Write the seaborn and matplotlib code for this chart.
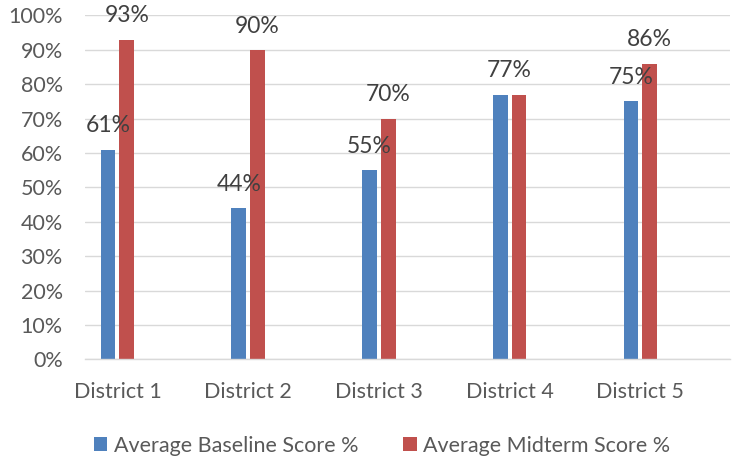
import matplotlib
matplotlib.use("Agg")
import matplotlib.pyplot as plt
import seaborn as sns
import pandas as pd
from matplotlib.ticker import FuncFormatter
from matplotlib.patches import Patch

# ---- data ----
districts = ["District 1", "District 2", "District 3", "District 4", "District 5"]
series_names = ["Average Baseline Score %", "Average Midterm Score %"]
baseline = [0.61, 0.44, 0.55, 0.77, 0.75]
midterm = [0.93, 0.90, 0.70, 0.77, 0.86]
colors = ["#4F81BD", "#C0504D"]
yticks = [i / 10 for i in range(11)]

df = pd.DataFrame({
    "District": districts * 2,
    "Series": [series_names[0]] * len(districts) + [series_names[1]] * len(districts),
    "Score": baseline + midterm,
})

sns.set_theme(style="white")
plt.rcParams["font.family"] = ["Lato", "DejaVu Sans"]

W, H = 733, 458
fig = plt.figure(figsize=(W / 100, H / 100), dpi=100)
ax = fig.add_axes([85 / W, 98.7 / H, (730 - 85) / W, 343.8 / H])

sns.barplot(data=df, x="District", y="Score", hue="Series", order=districts,
            hue_order=series_names, palette=colors, width=0.2864, gap=0.22,
            saturation=1, errorbar=None, legend=False, ax=ax, linewidth=0)

ax.set_xlim(-0.248, 4.686)
ax.set_ylim(0, 1)
ax.set_yticks(yticks)
ax.yaxis.set_major_formatter(FuncFormatter(lambda v, p: f"{v*100:.0f}%"))
ax.grid(axis="y", color="#D9D9D9", linewidth=1.0)
ax.set_axisbelow(True)
for s in ["left", "right", "top"]:
    ax.spines[s].set_visible(False)
ax.spines["bottom"].set_color("#D9D9D9")
ax.spines["bottom"].set_linewidth(1.0)
ax.tick_params(axis="y", length=0, pad=16, labelsize=15.5, labelcolor="#595959")
ax.tick_params(axis="x", length=0, pad=16, labelsize=15.5, labelcolor="#595959")
ax.set_xlabel("")
ax.set_ylabel("")

# data labels
bars0 = ax.containers[0]
bars1 = ax.containers[1]
for i in range(len(districts)):
    b0, b1 = bars0[i], bars1[i]
    v0, v1 = baseline[i], midterm[i]
    if abs(v0 - v1) < 1e-9:
        xc = (b0.get_x() + b1.get_x() + b1.get_width()) / 2
        ax.annotate(f"{v0*100:.0f}%", (xc, v0), xytext=(0, 12.5), textcoords="offset points",
                    ha="center", va="baseline", fontsize=16.5, color="#404040", annotation_clip=False)
    else:
        for b, v in ((b0, v0), (b1, v1)):
            ax.annotate(f"{v*100:.0f}%", (b.get_x() + b.get_width() / 2, v), xytext=(0, 12.5),
                        textcoords="offset points", ha="center", va="baseline", fontsize=16.5,
                        color="#404040", annotation_clip=False)

handles = [Patch(facecolor=c, edgecolor="none") for c in colors]
fig.legend(handles, series_names, loc="center", bbox_to_anchor=(382 / W, 1 - 446 / H), ncol=2,
           frameon=False, fontsize=15.5, labelcolor="#595959", handlelength=0.62,
           handleheight=0.62, handletextpad=0.3, columnspacing=2.1)

fig.savefig("out.png", dpi=100)
